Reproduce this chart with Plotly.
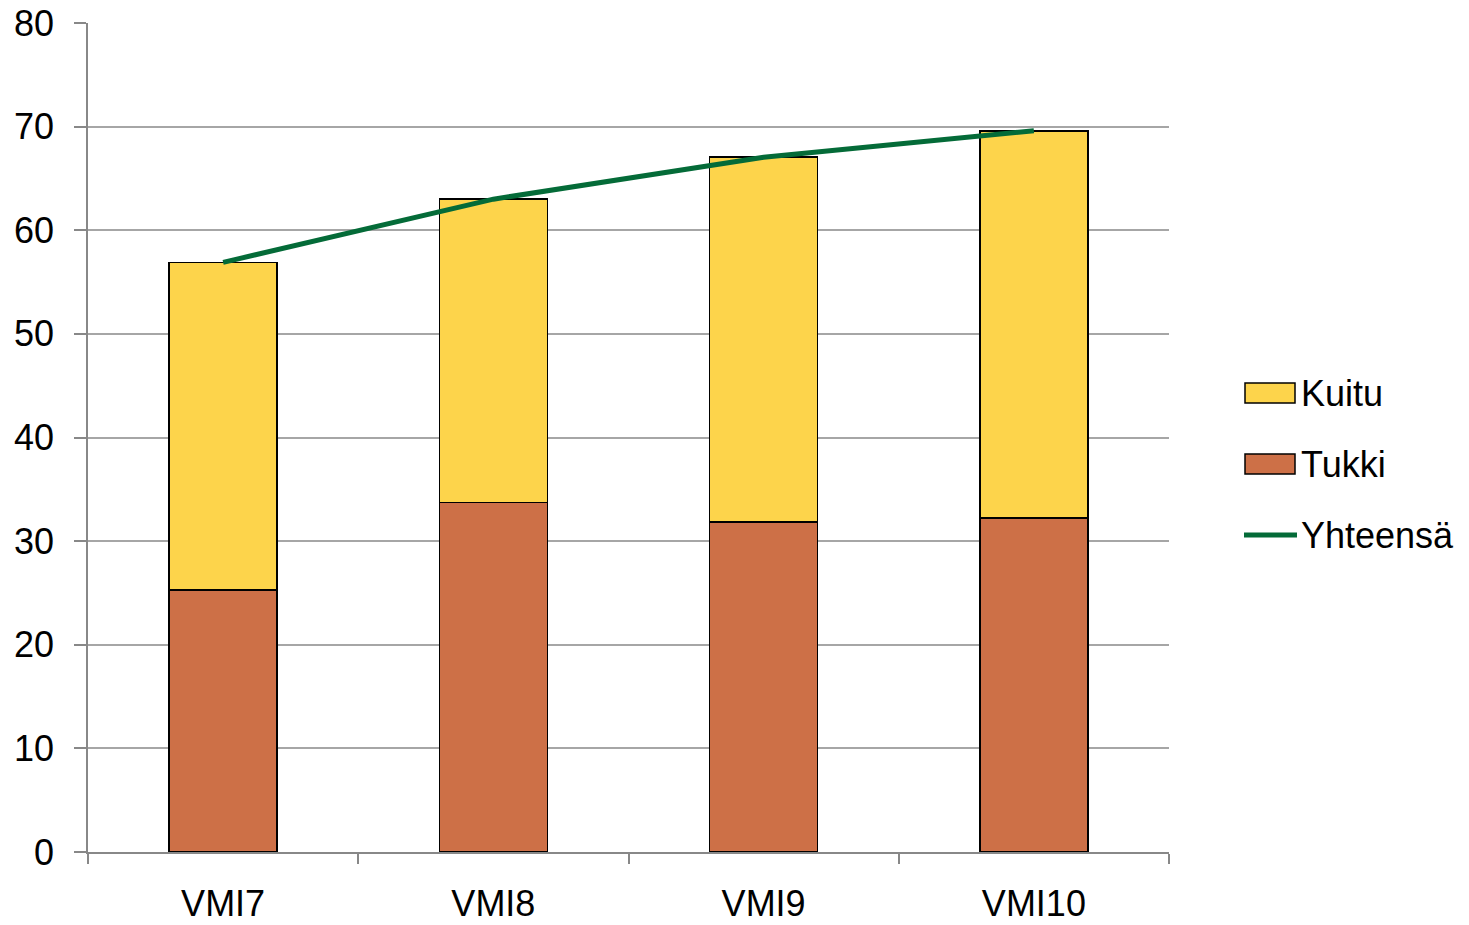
import plotly.graph_objects as go

categories = ["VMI7", "VMI8", "VMI9", "VMI10"]
tukki = [25.3, 33.75, 31.85, 32.25]
kuitu = [31.6, 29.25, 35.2, 37.35]
yhteensa = [56.9, 63.0, 67.05, 69.6]
y_ticks = [0, 10, 20, 30, 40, 50, 60, 70, 80]

FONT = "Liberation Sans, Arial, sans-serif"
C_KUITU = "#FDD44B"
C_TUKKI = "#CD7047"
C_LINE = "#046B38"

fig = go.Figure()
fig.add_trace(go.Bar(x=categories, y=tukki, name="Tukki", marker=dict(color=C_TUKKI, line=dict(color="black", width=1.5)), width=0.4, showlegend=False))
fig.add_trace(go.Bar(x=categories, y=kuitu, name="Kuitu", marker=dict(color=C_KUITU, line=dict(color="black", width=1.5)), width=0.4, showlegend=False))
fig.add_trace(go.Scatter(x=categories, y=yhteensa, name="Yhteensä", mode="lines", line=dict(color=C_LINE, width=5), showlegend=False))

L, R, T, B = 88, 300, 23, 73
W, H = 1469, 925
pw, ph = W - L - R, H - T - B

def px(x):
    return (x - L) / pw

def py(y):
    return (H - B - y) / ph

shapes = [
    dict(type="rect", xref="paper", yref="paper", x0=px(1245), x1=px(1295), y0=py(403), y1=py(383),
         fillcolor=C_KUITU, line=dict(color="black", width=1.5)),
    dict(type="rect", xref="paper", yref="paper", x0=px(1245), x1=px(1295), y0=py(474), y1=py(454),
         fillcolor=C_TUKKI, line=dict(color="black", width=1.5)),
    dict(type="line", xref="paper", yref="paper", x0=px(1244), x1=px(1297), y0=py(535), y1=py(535),
         line=dict(color=C_LINE, width=5)),
]
legend_items = [("Kuitu", 393), ("Tukki", 464), ("Yhteensä", 535)]
annotations = [dict(text=t, xref="paper", yref="paper", x=px(1299), y=py(yy), xanchor="left", yanchor="middle",
                    showarrow=False, font=dict(family=FONT, size=36, color="black")) for t, yy in legend_items]

fig.update_layout(
    barmode="stack",
    width=W, height=H,
    autosize=False,
    margin=dict(l=L, r=R, t=T, b=B, pad=0, autoexpand=False),
    paper_bgcolor="white", plot_bgcolor="white",
    font=dict(family=FONT, size=36, color="black"),
    bargap=0.6,
    shapes=shapes,
    annotations=annotations,
    showlegend=False,
    xaxis=dict(
        type="category", tickson="boundaries", ticks="outside", ticklen=10, tickwidth=1.5, tickcolor="#888888",
        showline=True, linecolor="#888888", linewidth=1.5, showgrid=False, automargin=False,
        tickfont=dict(family=FONT, size=36), ticklabelstandoff=19,
    ),
    yaxis=dict(
        range=[0, 80], tickvals=y_ticks, ticks="outside", ticklen=12, tickwidth=1.5, tickcolor="#888888",
        showline=True, linecolor="#888888", linewidth=1.5, automargin=False,
        showgrid=True, gridcolor="#A6A6A6", gridwidth=1.5, zeroline=False,
        tickfont=dict(family=FONT, size=36), ticklabelstandoff=13,
    ),
)

fig.write_html("out.html", config={"displayModeBar": False},
               post_script="document.body.style.margin='0';document.body.style.overflow='hidden';")
